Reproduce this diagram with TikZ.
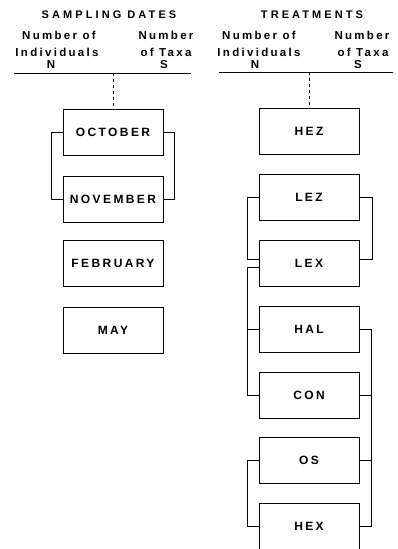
\documentclass[tikz,border=0pt]{standalone}
\usepackage{fontspec}
\newfontfamily\lblfont{Liberation Sans Bold}[LetterSpace=20]
\newfontfamily\hdrfont{Liberation Sans Bold}[LetterSpace=20]
\newfontfamily\ttlfont{Liberation Sans Bold}[LetterSpace=28]
\usetikzlibrary{calc}
\tikzset{
  box/.style={draw, line width=0.9pt, minimum width=100pt, minimum height=46pt, inner sep=0pt, font=\lblfont\fontsize{12}{14}\selectfont},
  hdr/.style={font=\hdrfont\fontsize{11.5}{13}\selectfont, inner sep=0pt, align=center},
  ttl/.style={font=\ttlfont\fontsize{11}{12}\selectfont, inner sep=0pt},
  con/.style={line width=0.7pt},
}
\begin{document}
\begin{tikzpicture}[x=1pt,y=-1pt]
\useasboundingbox (0,0) rectangle (397,549);
% headers left
\node[ttl] (t1) at (109,15) {SAMPLING DATES};
\node[hdr] (l1) at (59,35) {Number of};
\node[hdr] (l2) at (57,52) {Individuals};
\node[hdr] (l3) at (51,65) {N};
\node[hdr] (r1) at (166,35) {Number};
\node[hdr] (r2) at (166,52) {of Taxa};
\node[hdr] (r3) at (164,65) {S};
% headers right
\node[ttl] (t2) at (312,15) {TREATMENTS};
\node[hdr] (l4) at (259,35) {Number of};
\node[hdr] (l5) at (259,52) {Individuals};
\node[hdr] (l6) at (255,65) {N};
\node[hdr] (r4) at (362,35) {Number};
\node[hdr] (r5) at (363,52) {of Taxa};
\node[hdr] (r6) at (358,65) {S};
% rules
\coordinate (a1) at (14,73); \coordinate (a2) at (191,73);
\coordinate (b1) at (219,72); \coordinate (b2) at (393,72);
\draw[con] (a1) -- (a2);
\draw[con] (b1) -- (b2);
% left boxes
\node[box] (oct) at (113,132.5) {OCTOBER};
\node[box] (nov) at (113,199) {NOVEMBER};
\node[box] (feb) at (113,263.5) {FEBRUARY};
\node[box] (may) at (113,330) {MAY};
% right boxes
\node[box] (hez) at (309,131.5) {HEZ};
\node[box] (lez) at (309,197.5) {LEZ};
\node[box] (lex) at (309,263.5) {LEX};
\node[box] (hal) at (309,329.5) {HAL};
\node[box] (cn) at (309,395) {CON};
\node[box] (os) at (309,460.5) {OS};
\node[box] (hex) at (309,526) {HEX};
% dashed
\coordinate (d1) at (113,73);
\coordinate (d2) at (309,72);
\draw[con,dashed] (d1) -- (oct.north);
\draw[con,dashed] (d2) -- (hez.north);
% left brackets
\draw[con] (oct.west) -- ++(-11,0) |- (nov.west);
\draw[con] (oct.east) -- ++(11,0) |- (nov.east);
% right brackets
\draw[con] (lez.west) -- ++(-11,0) |- ([yshift=4pt]lex.west);
\draw[con] (lez.east) -- ++(13,0) |- ([yshift=4pt]lex.east);
\draw[con] ([yshift=-4pt]lex.west) -- ++(-11,0) |- (cn.west);
\draw[con] (hal.west) -- ++(-11,0);
\draw[con] (hal.east) -- ++(12,0) |- (hex.east);
\draw[con] (cn.east) -- ++(12,0);
\draw[con] (os.east) -- ++(12,0);
\draw[con] (os.west) -- ++(-11,0) |- (hex.west);
\end{tikzpicture}
\end{document}
